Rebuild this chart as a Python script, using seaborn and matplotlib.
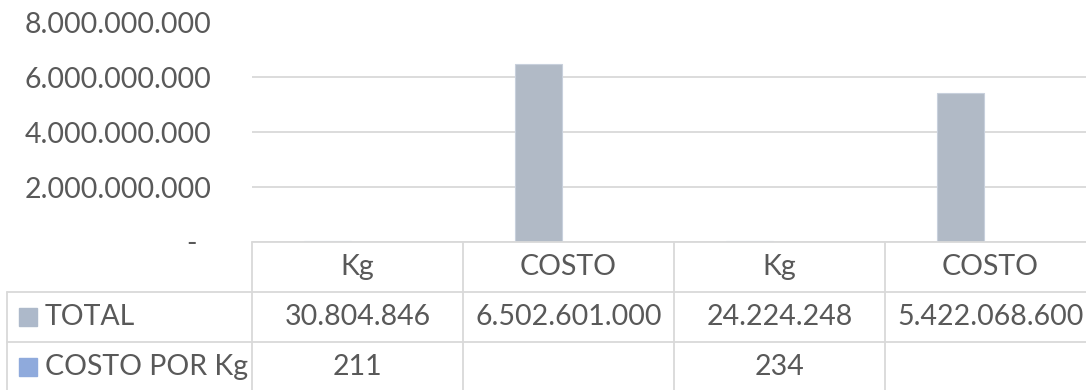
import matplotlib
matplotlib.use("Agg")
import matplotlib.pyplot as plt
from matplotlib.ticker import FuncFormatter, FixedLocator
import numpy as np
import pandas as pd
import seaborn as sns

# Data
categorias = ["Kg", "COSTO", "Kg", "COSTO"]
series = ["TOTAL", "COSTO POR Kg"]
total = [30804846, 6502601000, 24224248, 5422068600]
costo_por_kg = [211, None, 234, None]
ticks_y = [0, 2e9, 4e9, 6e9, 8e9]

colores = {"TOTAL": "#adb9ca", "COSTO POR Kg": "#8faadc"}
gris_texto = "#595959"
gris_linea = "#d9d9d9"

sns.set_theme(style="white")
plt.rcParams["font.family"] = ["Lato", "DejaVu Sans"]
FS = 20.5

W, H = 1086, 390
fig = plt.figure(figsize=(W / 100, H / 100), dpi=100)

# pixel geometry of plot area and data table
x0, col_w = 252, 211
y_top, y_base = 22.5, 242
row_h = 50

ax = fig.add_axes([x0 / W, (H - y_base) / H, 4 * col_w / W, (y_base - y_top) / H])
tab = fig.add_axes([x0 / W, (H - y_base - 3 * row_h) / H, 4 * col_w / W, 3 * row_h / H])

df = pd.DataFrame({
    "pos": list(range(4)) * 2,
    "serie": [series[0]] * 4 + [series[1]] * 4,
    "valor": total + costo_por_kg,
})
df["valor"] = df["valor"].astype(float)

sns.barplot(data=df, x="pos", y="valor", hue="serie", hue_order=series,
            palette=colores, width=0.568, gap=0.215, ax=ax, legend=False,
            edgecolor="#c8d0dc", linewidth=0.8, errorbar=None, zorder=3)

ax.set_xlim(-0.5, 3.5)
ax.set_ylim(0, 8e9)
ax.yaxis.set_major_locator(FixedLocator(ticks_y))


def fmt_miles(v, _):
    if v == 0:
        return "-  "
    return f"{int(round(v)):,}".replace(",", ".")


ax.yaxis.set_major_formatter(FuncFormatter(fmt_miles))
ax.tick_params(axis="y", length=0, pad=29, labelsize=FS, labelcolor=gris_texto)
ax.set_xticks([])
ax.set_xlabel("")
ax.set_ylabel("")
ax.grid(axis="y", color=gris_linea, linewidth=1.3, zorder=0)
ax.set_axisbelow(True)
for s in ax.spines.values():
    s.set_visible(False)

# Data table under the chart
tab.set_xlim(-0.5, 3.5)
tab.set_ylim(3, 0)
tab.axis("off")

left_px = 7
x_left = -0.5 - (x0 - left_px) / col_w
lw = 1.3
kw = dict(color=gris_linea, linewidth=lw, clip_on=False)

# horizontal rules
tab.plot([-0.5, 3.6], [0, 0], **kw)
for r in (1, 2):
    tab.plot([x_left, 3.6], [r, r], **kw)
# vertical rules
tab.plot([x_left, x_left], [1, 3.1], **kw)
for i in range(4):
    tab.plot([i - 0.5, i - 0.5], [0, 3.1], **kw)

# header row
for i, c in enumerate(categorias):
    tab.text(i, 0.5, c, ha="center", va="center", fontsize=FS, color=gris_texto)


def fmt_celda(v):
    if v is None:
        return ""
    return f"{int(v):,}".replace(",", ".")


for r, (nombre, valores) in enumerate(zip(series, [total, costo_por_kg]), start=1):
    yc = r + 0.5
    tab.plot([-0.5 - (x0 - 28) / col_w], [yc], marker="s", markersize=13,
             color=colores[nombre], linestyle="none", clip_on=False)
    tab.text(-0.5 - (x0 - 45) / col_w, yc, nombre, ha="left", va="center",
             fontsize=FS, color=gris_texto)
    for i, v in enumerate(valores):
        tab.text(i, yc, fmt_celda(v), ha="center", va="center",
                 fontsize=FS, color=gris_texto)

fig.savefig("out.png", dpi=100, facecolor="white")
